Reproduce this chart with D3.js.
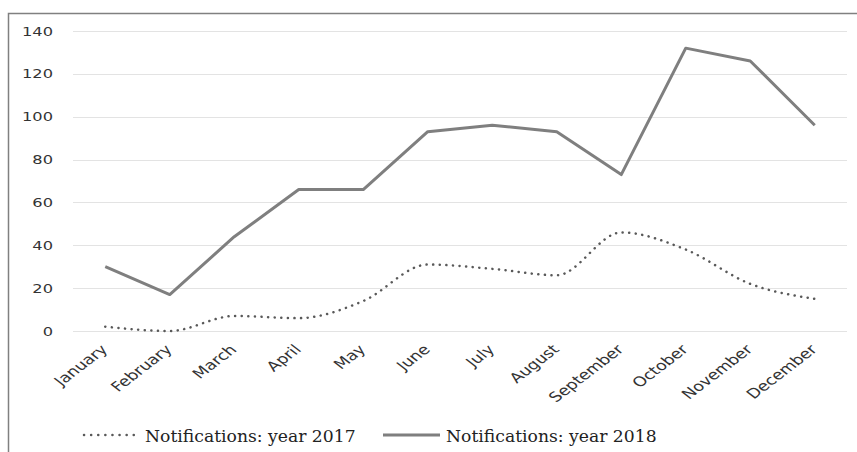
<!DOCTYPE html>
<html>
<head>
<meta charset="utf-8">
<script src="https://cdn.jsdelivr.net/npm/d3@7"></script>
<style>
  body { margin: 0; background: #fff; }
  svg { display: block; }
</style>
</head>
<body>
<svg width="857" height="452"></svg>
<script>
// months and monthly notification counts
var months = ["January", "February", "March", "April", "May", "June", "July",
              "August", "September", "October", "November", "December"];
var notif2017 = [2, 0, 7, 6, 14, 31, 29, 26, 46, 38, 22, 15];
var notif2018 = [30, 17, 44, 66, 66, 93, 96, 93, 73, 132, 126, 96];
var yTicks = [0, 20, 40, 60, 80, 100, 120, 140];

var svg = d3.select("svg");
var sx = 1.3; // the original image is stretched sideways

// outer frame (top + left edges visible)
svg.append("path")
   .attr("d", "M8.5,452 L8.5,13.5 L857,13.5")
   .attr("fill", "none")
   .attr("stroke", "#808080")
   .attr("stroke-width", 1.5);

var x = d3.scaleBand().domain(months).range([73, 847]);
var y = d3.scaleLinear().domain([0, 140]).range([331, 31]);

// gridlines
svg.append("g").selectAll("line")
   .data(yTicks)
   .join("line")
   .attr("x1", 73).attr("x2", 847)
   .attr("y1", d => Math.round(y(d)) + 0.5)
   .attr("y2", d => Math.round(y(d)) + 0.5)
   .attr("stroke", "#e3e3e3")
   .attr("stroke-width", 1);

// y tick labels
svg.append("g").selectAll("text")
   .data(yTicks)
   .join("text")
   .attr("transform", d => "translate(53," + y(d) + ") scale(" + sx + ",1)")
   .attr("dy", "0.36em")
   .attr("text-anchor", "end")
   .attr("font-family", "'DejaVu Sans', sans-serif")
   .attr("font-size", 12.5)
   .attr("fill", "#333")
   .text(d => d);

// x labels, rotated
svg.append("g").selectAll("text")
   .data(months)
   .join("text")
   .attr("transform", d => "translate(" + (x(d) + x.bandwidth() / 2 - 1) + ",347) scale(" + sx + ",1) rotate(-45)")
   .attr("text-anchor", "end")
   .attr("dy", "0.35em")
   .attr("font-family", "'DejaVu Sans', sans-serif")
   .attr("font-size", 13.5)
   .attr("fill", "#333")
   .text(d => d);

var cx = (d, i) => x(months[i]) + x.bandwidth() / 2;

var line2017 = d3.line().x(cx).y(d => y(d)).curve(d3.curveMonotoneX);
var line2018 = d3.line().x(cx).y(d => y(d));

svg.append("path")
   .datum(notif2017)
   .attr("d", line2017)
   .attr("fill", "none")
   .attr("stroke", "#595959")
   .attr("stroke-width", 2.5)
   .attr("stroke-linecap", "round")
   .attr("stroke-dasharray", "0.1 6.5");

svg.append("path")
   .datum(notif2018)
   .attr("d", line2018)
   .attr("fill", "none")
   .attr("stroke", "#7f7f7f")
   .attr("stroke-width", 3)
   .attr("stroke-linejoin", "round");

// legend
var legend = svg.append("g");
legend.append("line")
   .attr("x1", 84).attr("x2", 134).attr("y1", 435).attr("y2", 435)
   .attr("stroke", "#595959").attr("stroke-width", 2.5)
   .attr("stroke-linecap", "round").attr("stroke-dasharray", "0.1 7");
legend.append("text")
   .attr("x", 145).attr("y", 442)
   .attr("font-family", "'DejaVu Serif', serif")
   .attr("font-size", 17.2).attr("fill", "#222")
   .text("Notifications: year 2017");
legend.append("line")
   .attr("x1", 383).attr("x2", 440).attr("y1", 435).attr("y2", 435)
   .attr("stroke", "#7f7f7f").attr("stroke-width", 3);
legend.append("text")
   .attr("x", 446).attr("y", 442)
   .attr("font-family", "'DejaVu Serif', serif")
   .attr("font-size", 17.2).attr("fill", "#222")
   .text("Notifications: year 2018");
</script>
</body>
</html>
